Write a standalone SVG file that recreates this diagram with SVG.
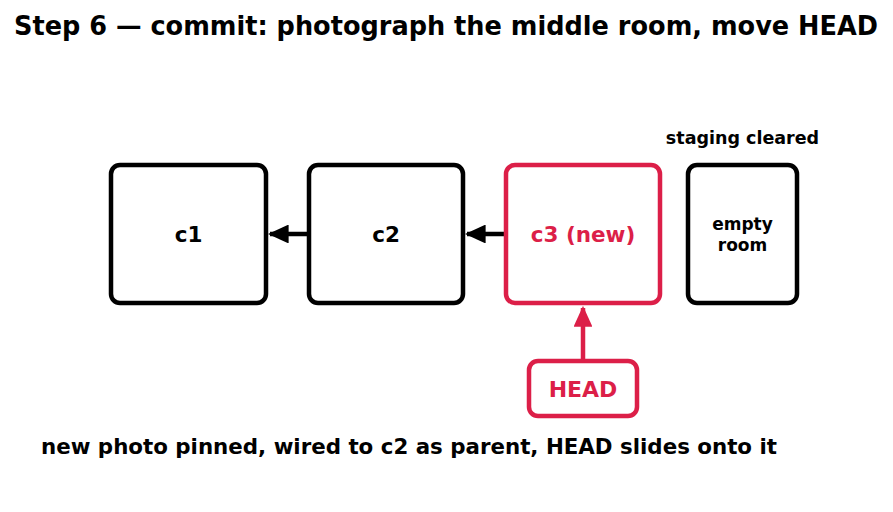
<svg xmlns="http://www.w3.org/2000/svg" width="893" height="512" viewBox="0 0 893 512">
<style>
text{font-family:"DejaVu Sans",sans-serif;font-weight:bold;}
.box{fill:#fff;stroke:#000;stroke-width:4.5;}
.red{stroke:#dc1f48;}
.lbl{font-size:21.5px;text-anchor:middle;dominant-baseline:central;}
.conn{stroke:#000;stroke-width:4.5;fill:none;}
</style>
<defs>
<marker id="ah" viewBox="0 0 10 10" refX="9" refY="5" markerWidth="4.6" markerHeight="4.2" orient="auto" markerUnits="strokeWidth" preserveAspectRatio="none"><path d="M0,0 L10,5 L0,10 z" fill="#000"/></marker>
<marker id="ahr" viewBox="0 0 10 10" refX="9" refY="5" markerWidth="4.6" markerHeight="4.2" orient="auto" markerUnits="strokeWidth" preserveAspectRatio="none"><path d="M0,0 L10,5 L0,10 z" fill="#dc1f48"/></marker>
</defs>
<rect width="893" height="512" fill="#fff"/>
<text x="446" y="35" font-size="26" text-anchor="middle" textLength="864" lengthAdjust="spacingAndGlyphs">Step 6 — commit: photograph the middle room, move HEAD</text>
<g id="connectors">
<line class="conn" x1="309" y1="234" x2="270" y2="234" marker-end="url(#ah)"/>
<line class="conn" x1="506" y1="234" x2="467" y2="234" marker-end="url(#ah)"/>
<line class="conn" x1="583" y1="361" x2="583" y2="308" style="stroke:#dc1f48" marker-end="url(#ahr)"/>
</g>
<g id="c1"><rect class="box" x="111" y="165" width="155" height="138" rx="9"/><text class="lbl" x="188.5" y="234">c1</text></g>
<g id="c2"><rect class="box" x="309" y="165" width="154" height="138" rx="9"/><text class="lbl" x="386" y="234">c2</text></g>
<g id="c3"><rect class="box red" x="506" y="165" width="154" height="138" rx="9"/><text class="lbl" x="583" y="234" fill="#dc1f48">c3 (new)</text></g>
<g id="staging"><rect class="box" x="688" y="165" width="109" height="138" rx="9"/><text x="742.5" y="230" font-size="17" text-anchor="middle">empty</text><text x="742.5" y="251" font-size="17" text-anchor="middle">room</text><text x="742.5" y="144" font-size="17.5" text-anchor="middle">staging cleared</text></g>
<g id="head"><rect class="box red" x="529" y="361" width="108" height="55" rx="9"/><text class="lbl" x="583" y="389" font-size="22" fill="#dc1f48" style="font-size:22px">HEAD</text></g>
<text x="41" y="454" font-size="22" textLength="736" lengthAdjust="spacingAndGlyphs">new photo pinned, wired to c2 as parent, HEAD slides onto it</text>
</svg>
